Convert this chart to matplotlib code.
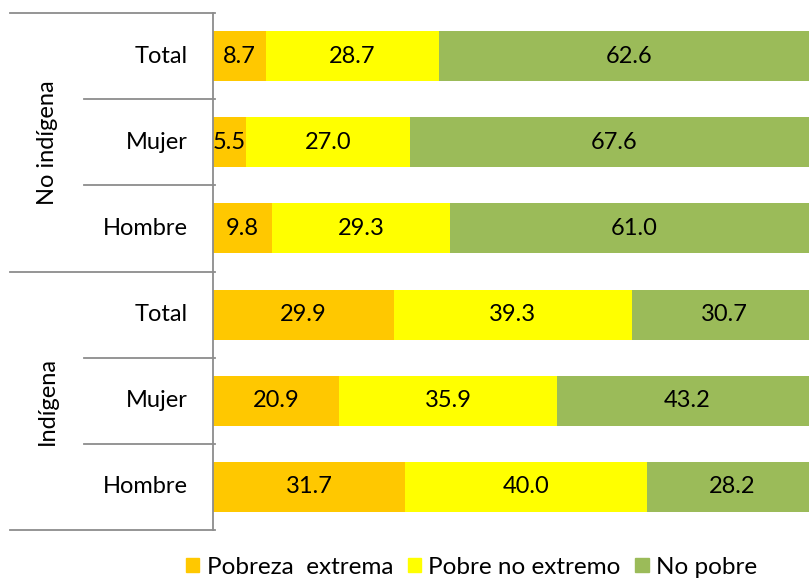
import matplotlib.pyplot as plt
from matplotlib.patches import Patch

# rows from top to bottom
groups = ['No indígena', 'Indígena']
row_labels = ['Total', 'Mujer', 'Hombre', 'Total', 'Mujer', 'Hombre']
extrema = [8.7, 5.5, 9.8, 29.9, 20.9, 31.7]
pobre_no_ext = [28.7, 27.0, 29.3, 39.3, 35.9, 40.0]
no_pobre = [62.6, 67.6, 61.0, 30.7, 43.2, 28.2]
series_names = ['Pobreza  extrema', 'Pobre no extremo', 'No pobre']
colors = ['#FFC800', '#FFFF00', '#9BBB59']

plt.rcParams['font.family'] = ['Lato', 'DejaVu Sans']

fig = plt.figure(figsize=(8.09, 5.80), dpi=100)
ax = fig.add_axes([213 / 809, 50 / 580, 596 / 809, 517 / 580])

ypos = list(range(len(row_labels)))
left = [0] * len(row_labels)
for vals, col, name in zip([extrema, pobre_no_ext, no_pobre], colors, series_names):
    bars = ax.barh(ypos, vals, left=left, height=0.58, color=col, label=name)
    for b, v in zip(bars, vals):
        ax.text(b.get_x() + b.get_width() / 2, b.get_y() + b.get_height() / 2,
                f'{v:.1f}', ha='center', va='center', fontsize=17, color='black')
    left = [l + v for l, v in zip(left, vals)]

# the original plot area runs a bit past the right edge of the image
ax.set_xlim(0, 98.5)
ax.set_ylim(len(row_labels) - 0.5, -0.5)
ax.set_xticks([])
ax.set_yticks([])
for s in ['top', 'right', 'bottom']:
    ax.spines[s].set_visible(False)
ax.spines['left'].set_color('#8c8c8c')
ax.spines['left'].set_linewidth(1.3)

# row labels
tr = ax.get_yaxis_transform()
for y, lab in zip(ypos, row_labels):
    ax.text(-0.042, y, lab, transform=tr, ha='right', va='center', fontsize=17)

# separators between rows and groups
x_short = (84 - 213) / 596
x_long = (10 - 213) / 596
for y in [0.5, 1.5, 3.5, 4.5]:
    ax.plot([x_short, 0.004], [y, y], transform=tr, color='#8c8c8c', lw=1.3, clip_on=False)
for y in [-0.5, 2.5, 5.5]:
    ax.plot([x_long, 0.004], [y, y], transform=tr, color='#8c8c8c', lw=1.3, clip_on=False)

# group labels
x_grp = (47 - 213) / 596
for i, g in enumerate(groups):
    ax.text(x_grp, 1 + 3 * i, g, transform=tr, rotation=90, ha='center', va='center', fontsize=17)

handles = [Patch(color=c, label=n) for c, n in zip(colors, series_names)]
fig.legend(handles=handles, loc='center', bbox_to_anchor=(0.583, 0.022), ncol=3, frameon=False,
           fontsize=17.5, handlelength=0.55, handleheight=0.55, handletextpad=0.3, columnspacing=0.6)

fig.savefig('out.png', dpi=100)
